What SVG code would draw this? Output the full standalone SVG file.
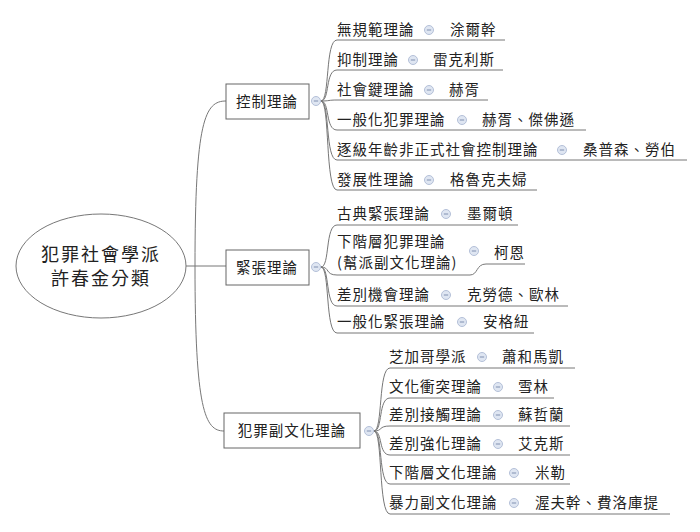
<svg xmlns="http://www.w3.org/2000/svg" width="700" height="532" viewBox="0 0 700 532">
<style>
text{font-family:"Noto Sans CJK TC","Noto Sans CJK SC",sans-serif;font-size:14.5px;fill:#222;letter-spacing:1px}
.c{fill:none;stroke:#777;stroke-width:1}
.box{fill:#fff;stroke:#666;stroke-width:1}
.m{fill:#dfe6f2;stroke:#b4c0d8;stroke-width:1}
.mt{stroke:#8090b0;stroke-width:1}
</style>
<defs>
<g id="mk"><circle class="m" r="4.5"/><line class="mt" x1="-2.2" y1="0" x2="2.2" y2="0"/></g>
</defs>
<rect width="700" height="532" fill="#fff"/>
<g id="connectors">
<path class="c" d="M186,266 H226"/>
<path class="c" d="M195,266 C195,120 205,101 226,101"/>
<path class="c" d="M195,266 C195,410 205,431 224,431"/>
<path class="c" d="M321,101 C330,101 325,40 337,40 H505"/>
<path class="c" d="M321,101 C330,101 325,70 337,70 H503"/>
<path class="c" d="M321,101 C330,101 328,100 337,100 H488"/>
<path class="c" d="M321,101 C330,101 325,130 337,130 H586"/>
<path class="c" d="M321,101 C330,101 325,160 337,160 H687"/>
<path class="c" d="M321,101 C330,101 325,190 337,190 H537"/>
<path class="c" d="M321,267 C330,267 325,225 337,225 H518"/>
<path class="c" d="M321,267 C330,267 325,275 337,275 H470 C478,275 476,264 486,264 H525"/>
<path class="c" d="M321,267 C330,267 325,306 337,306 H568"/>
<path class="c" d="M321,267 C330,267 325,333 337,333 H534"/>
<path class="c" d="M374,431 C383,431 378,368 390,368 H575"/>
<path class="c" d="M374,431 C383,431 378,398 390,398 H554"/>
<path class="c" d="M374,431 C383,431 378,426 390,426 H570"/>
<path class="c" d="M374,431 C383,431 378,455 390,455 H570"/>
<path class="c" d="M374,431 C383,431 378,484 390,484 H570"/>
<path class="c" d="M374,431 C383,431 378,514 390,514 H670"/>
</g>
<g id="root"><ellipse cx="101" cy="266" rx="85" ry="52" fill="#fff" stroke="#777"/>
<text x="101" y="261" text-anchor="middle" style="font-size:18px;letter-spacing:2px">犯罪社會學派</text>
<text x="101" y="285" text-anchor="middle" style="font-size:18px;letter-spacing:2px">許春金分類</text></g>
<g id="control"><rect class="box" x="226" y="84" width="83" height="35"/><text x="267" y="107" text-anchor="middle">控制理論</text><use href="#mk" x="316" y="101"/></g>
<g id="strain"><rect class="box" x="226" y="250" width="83" height="35"/><text x="267" y="273" text-anchor="middle">緊張理論</text><use href="#mk" x="316" y="267"/></g>
<g id="subculture"><rect class="box" x="224" y="413" width="136" height="35"/><text x="292" y="436" text-anchor="middle">犯罪副文化理論</text><use href="#mk" x="369" y="431"/></g>
<g id="c1"><text x="337" y="35">無規範理論</text><use href="#mk" x="429" y="30"/><text x="450" y="35">涂爾幹</text></g>
<g id="c2"><text x="337" y="65">抑制理論</text><use href="#mk" x="413" y="60"/><text x="433" y="65">雷克利斯</text></g>
<g id="c3"><text x="337" y="95">社會鍵理論</text><use href="#mk" x="429" y="90"/><text x="449" y="95">赫胥</text></g>
<g id="c4"><text x="337" y="125">一般化犯罪理論</text><use href="#mk" x="462" y="120"/><text x="482" y="125">赫胥、傑佛遜</text></g>
<g id="c5"><text x="337" y="155">逐級年齡非正式社會控制理論</text><use href="#mk" x="562" y="150"/><text x="583" y="155">桑普森、勞伯</text></g>
<g id="c6"><text x="337" y="185">發展性理論</text><use href="#mk" x="429" y="180"/><text x="450" y="185">格魯克夫婦</text></g>
<g id="s1"><text x="337" y="219">古典緊張理論</text><use href="#mk" x="446" y="214"/><text x="467" y="219">墨爾頓</text></g>
<g id="s2"><text x="337" y="247">下階層犯罪理論</text><text x="337" y="268">(幫派副文化理論)</text><use href="#mk" x="474" y="251"/><text x="494" y="258">柯恩</text></g>
<g id="s3"><text x="337" y="300">差別機會理論</text><use href="#mk" x="446" y="295"/><text x="467" y="300">克勞德、歐林</text></g>
<g id="s4"><text x="337" y="327">一般化緊張理論</text><use href="#mk" x="462" y="322"/><text x="483" y="327">安格紐</text></g>
<g id="u1"><text x="389" y="362">芝加哥學派</text><use href="#mk" x="482" y="357"/><text x="502" y="362">蕭和馬凱</text></g>
<g id="u2"><text x="389" y="392">文化衝突理論</text><use href="#mk" x="498" y="387"/><text x="518" y="392">雪林</text></g>
<g id="u3"><text x="389" y="420">差別接觸理論</text><use href="#mk" x="498" y="415"/><text x="518" y="420">蘇哲蘭</text></g>
<g id="u4"><text x="389" y="449">差別強化理論</text><use href="#mk" x="498" y="444"/><text x="518" y="449">艾克斯</text></g>
<g id="u5"><text x="389" y="478">下階層文化理論</text><use href="#mk" x="514" y="473"/><text x="535" y="478">米勒</text></g>
<g id="u6"><text x="389" y="508">暴力副文化理論</text><use href="#mk" x="514" y="503"/><text x="535" y="508">渥夫幹、費洛庫提</text></g>
</svg>
